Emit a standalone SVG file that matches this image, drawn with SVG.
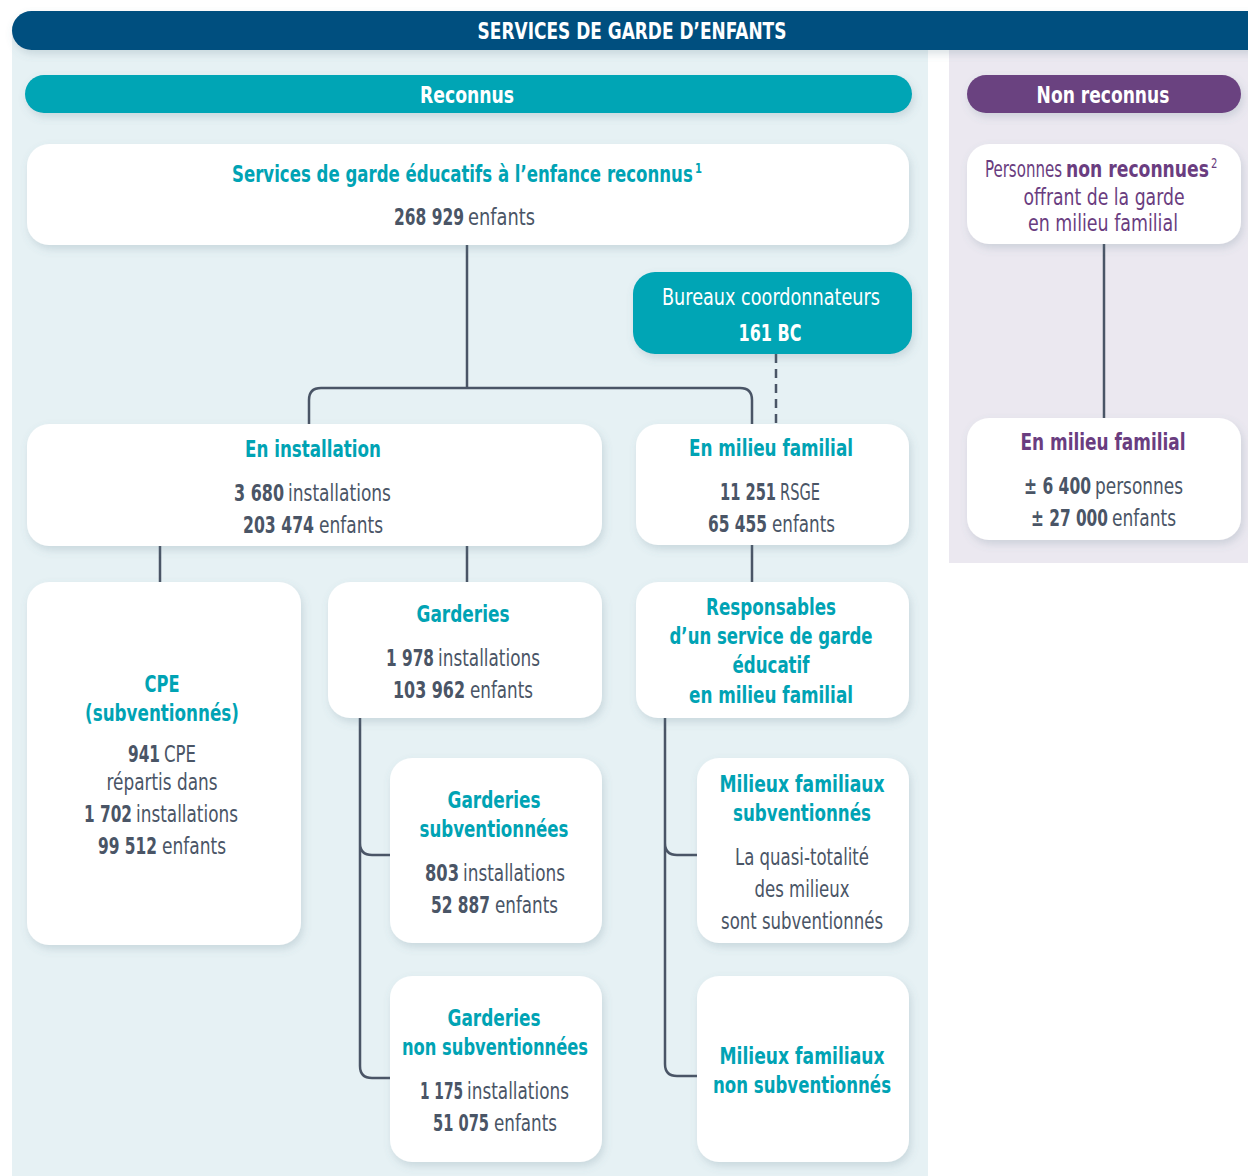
<svg xmlns="http://www.w3.org/2000/svg" width="1248" height="1176" viewBox="0 0 1248 1176">
<defs>
<filter id="sh" x="-10%" y="-10%" width="130%" height="140%">
<feDropShadow dx="2" dy="4" stdDeviation="4" flood-color="#5a7a88" flood-opacity="0.22"/>
</filter>
<style>
text{font-family:"DejaVu Sans Condensed","Liberation Sans Narrow","Liberation Sans",sans-serif;text-anchor:middle;font-size:23px}
.s{text-anchor:start}
.t{fill:#00a3b4;font-weight:bold}
.p{fill:#6a3d80}
.g{fill:#4a5566}
.b{font-weight:bold}
.w{fill:#ffffff}
.sup{font-size:14px}
.box{fill:#ffffff;filter:url(#sh)}
.ln{fill:none;stroke:#4a5566;stroke-width:2.5}
</style>
</defs>
<rect width="1248" height="1176" fill="#ffffff"/>
<rect x="12" y="30" width="916" height="1146" fill="#e6f1f4"/>
<rect x="949" y="30" width="299" height="533" fill="#ebe8f0"/>
<g id="title">
<rect x="12" y="11" width="1260" height="39" rx="19.5" fill="#00507f" filter="url(#sh)"/>
<text transform="translate(632) scale(.8 1)" x="0" y="39" class="w b" font-size="22" textLength="386" lengthAdjust="spacingAndGlyphs">SERVICES DE GARDE D’ENFANTS</text>
</g>
<g id="reconnus">
<rect x="25" y="75" width="887" height="38" rx="19" fill="#00a5b5" filter="url(#sh)"/>
<text transform="translate(467) scale(.8 1)" x="0" y="103" class="w b" textLength="117.5" lengthAdjust="spacingAndGlyphs">Reconnus</text>
</g>
<g id="nonreconnus">
<rect x="967" y="75" width="274" height="38" rx="19" fill="#6b4280" filter="url(#sh)"/>
<text transform="translate(1103) scale(.8 1)" x="0" y="103" class="w b" textLength="166" lengthAdjust="spacingAndGlyphs">Non reconnus</text>
</g>
<g id="connectors">
<path class="ln" d="M467 245V388"/>
<path class="ln" d="M309 424V400Q309 388 321 388H740Q752 388 752 400V424"/>
<path class="ln" d="M776 354V424" stroke-dasharray="9 6"/>
<path class="ln" d="M160 546V582M467 546V582M752 545V582"/>
<path class="ln" d="M360 718V843Q360 855 372 855H390M360 843V1066Q360 1078 372 1078H390"/>
<path class="ln" d="M665 718V843Q665 855 677 855H697M665 843V1064Q665 1076 677 1076H697"/>
<path class="ln" d="M1104 244V418"/>
</g>
<g id="sgee">
<rect class="box" x="27" y="144" width="882" height="101" rx="22"/>
<text transform="translate(232) scale(.8 1)" x="0" y="182" class="t s" textLength="576" lengthAdjust="spacingAndGlyphs">Services de garde éducatifs à l’enfance reconnus</text>
<text transform="translate(695) scale(.8 1)" x="0" y="173" class="t s sup">1</text>
<text transform="translate(394) scale(.8 1)" x="0" y="225" class="g b s" textLength="87.5" lengthAdjust="spacingAndGlyphs">268 929</text>
<text transform="translate(468) scale(.8 1)" x="0" y="225" class="g s" textLength="83.75" lengthAdjust="spacingAndGlyphs">enfants</text>
</g>
<g id="bureaux">
<rect x="633" y="272" width="279" height="82" rx="22" fill="#00a5b5" filter="url(#sh)"/>
<text transform="translate(771) scale(.8 1)" x="0" y="305" class="w" textLength="272.5" lengthAdjust="spacingAndGlyphs">Bureaux coordonnateurs</text>
<text transform="translate(770) scale(.8 1)" x="0" y="341" class="w b" textLength="78.75" lengthAdjust="spacingAndGlyphs">161 BC</text>
</g>
<g id="installation">
<rect class="box" x="27" y="424" width="575" height="122" rx="22"/>
<text transform="translate(313) scale(.8 1)" x="0" y="457" class="t" textLength="170" lengthAdjust="spacingAndGlyphs">En installation</text>
<text transform="translate(234) scale(.8 1)" x="0" y="501" class="g b s" textLength="62.5" lengthAdjust="spacingAndGlyphs">3 680</text>
<text transform="translate(288) scale(.8 1)" x="0" y="501" class="g s" textLength="128.75" lengthAdjust="spacingAndGlyphs">installations</text>
<text transform="translate(243) scale(.8 1)" x="0" y="533" class="g b s" textLength="88.75" lengthAdjust="spacingAndGlyphs">203 474</text>
<text transform="translate(319) scale(.8 1)" x="0" y="533" class="g s" textLength="80" lengthAdjust="spacingAndGlyphs">enfants</text>
</g>
<g id="milieufamilial">
<rect class="box" x="636" y="424" width="273" height="121" rx="22"/>
<text transform="translate(771) scale(.8 1)" x="0" y="456" class="t" textLength="205" lengthAdjust="spacingAndGlyphs">En milieu familial</text>
<text transform="translate(720) scale(.8 1)" x="0" y="500" class="g b s" textLength="70" lengthAdjust="spacingAndGlyphs">11 251</text>
<text transform="translate(780) scale(.8 1)" x="0" y="500" class="g s" textLength="50" lengthAdjust="spacingAndGlyphs">RSGE</text>
<text transform="translate(708) scale(.8 1)" x="0" y="532" class="g b s" textLength="73.75" lengthAdjust="spacingAndGlyphs">65 455</text>
<text transform="translate(772) scale(.8 1)" x="0" y="532" class="g s" textLength="78.75" lengthAdjust="spacingAndGlyphs">enfants</text>
</g>
<g id="cpe">
<rect class="box" x="27" y="582" width="274" height="363" rx="22"/>
<text transform="translate(162) scale(.8 1)" x="0" y="692" class="t" textLength="43.75" lengthAdjust="spacingAndGlyphs">CPE</text>
<text transform="translate(162) scale(.8 1)" x="0" y="721" class="t" textLength="192.5" lengthAdjust="spacingAndGlyphs">(subventionnés)</text>
<text transform="translate(128) scale(.8 1)" x="0" y="762" class="g b s" textLength="40" lengthAdjust="spacingAndGlyphs">941</text>
<text transform="translate(164) scale(.8 1)" x="0" y="762" class="g s" textLength="40" lengthAdjust="spacingAndGlyphs">CPE</text>
<text transform="translate(162) scale(.8 1)" x="0" y="790" class="g" textLength="138.75" lengthAdjust="spacingAndGlyphs">répartis dans</text>
<text transform="translate(84) scale(.8 1)" x="0" y="822" class="g b s" textLength="60" lengthAdjust="spacingAndGlyphs">1 702</text>
<text transform="translate(136) scale(.8 1)" x="0" y="822" class="g s" textLength="127.5" lengthAdjust="spacingAndGlyphs">installations</text>
<text transform="translate(98) scale(.8 1)" x="0" y="854" class="g b s" textLength="73.75" lengthAdjust="spacingAndGlyphs">99 512</text>
<text transform="translate(162) scale(.8 1)" x="0" y="854" class="g s" textLength="80" lengthAdjust="spacingAndGlyphs">enfants</text>
</g>
<g id="garderies">
<rect class="box" x="328" y="582" width="274" height="136" rx="22"/>
<text transform="translate(463) scale(.8 1)" x="0" y="622" class="t" textLength="116.25" lengthAdjust="spacingAndGlyphs">Garderies</text>
<text transform="translate(386) scale(.8 1)" x="0" y="666" class="g b s" textLength="60" lengthAdjust="spacingAndGlyphs">1 978</text>
<text transform="translate(438) scale(.8 1)" x="0" y="666" class="g s" textLength="127.5" lengthAdjust="spacingAndGlyphs">installations</text>
<text transform="translate(393) scale(.8 1)" x="0" y="698" class="g b s" textLength="90" lengthAdjust="spacingAndGlyphs">103 962</text>
<text transform="translate(470) scale(.8 1)" x="0" y="698" class="g s" textLength="78.75" lengthAdjust="spacingAndGlyphs">enfants</text>
</g>
<g id="rsge">
<rect class="box" x="636" y="582" width="273" height="136" rx="22"/>
<text transform="translate(771) scale(.8 1)" x="0" y="615" class="t" textLength="162.5" lengthAdjust="spacingAndGlyphs">Responsables</text>
<text transform="translate(771) scale(.8 1)" x="0" y="644" class="t" textLength="253.75" lengthAdjust="spacingAndGlyphs">d’un service de garde</text>
<text transform="translate(771) scale(.8 1)" x="0" y="673" class="t" textLength="96.25" lengthAdjust="spacingAndGlyphs">éducatif</text>
<text transform="translate(771) scale(.8 1)" x="0" y="703" class="t" textLength="205" lengthAdjust="spacingAndGlyphs">en milieu familial</text>
</g>
<g id="gardsub">
<rect class="box" x="390" y="758" width="212" height="185" rx="22"/>
<text transform="translate(494) scale(.8 1)" x="0" y="808" class="t" textLength="116.25" lengthAdjust="spacingAndGlyphs">Garderies</text>
<text transform="translate(494) scale(.8 1)" x="0" y="837" class="t" textLength="186.25" lengthAdjust="spacingAndGlyphs">subventionnées</text>
<text transform="translate(425) scale(.8 1)" x="0" y="881" class="g b s" textLength="42.5" lengthAdjust="spacingAndGlyphs">803</text>
<text transform="translate(463) scale(.8 1)" x="0" y="881" class="g s" textLength="127.5" lengthAdjust="spacingAndGlyphs">installations</text>
<text transform="translate(431) scale(.8 1)" x="0" y="913" class="g b s" textLength="73.75" lengthAdjust="spacingAndGlyphs">52 887</text>
<text transform="translate(495) scale(.8 1)" x="0" y="913" class="g s" textLength="78.75" lengthAdjust="spacingAndGlyphs">enfants</text>
</g>
<g id="gardnonsub">
<rect class="box" x="390" y="976" width="212" height="186" rx="22"/>
<text transform="translate(494) scale(.8 1)" x="0" y="1026" class="t" textLength="116.25" lengthAdjust="spacingAndGlyphs">Garderies</text>
<text transform="translate(495) scale(.8 1)" x="0" y="1055" class="t" textLength="232.5" lengthAdjust="spacingAndGlyphs">non subventionnées</text>
<text transform="translate(420) scale(.8 1)" x="0" y="1099" class="g b s" textLength="53.75" lengthAdjust="spacingAndGlyphs">1 175</text>
<text transform="translate(467) scale(.8 1)" x="0" y="1099" class="g s" textLength="127.5" lengthAdjust="spacingAndGlyphs">installations</text>
<text transform="translate(433) scale(.8 1)" x="0" y="1131" class="g b s" textLength="70" lengthAdjust="spacingAndGlyphs">51 075</text>
<text transform="translate(494) scale(.8 1)" x="0" y="1131" class="g s" textLength="78.75" lengthAdjust="spacingAndGlyphs">enfants</text>
</g>
<g id="milsub">
<rect class="box" x="697" y="758" width="212" height="185" rx="22"/>
<text transform="translate(802) scale(.8 1)" x="0" y="792" class="t" textLength="206.25" lengthAdjust="spacingAndGlyphs">Milieux familiaux</text>
<text transform="translate(802) scale(.8 1)" x="0" y="821" class="t" textLength="172.5" lengthAdjust="spacingAndGlyphs">subventionnés</text>
<text transform="translate(802) scale(.8 1)" x="0" y="865" class="g" textLength="167.5" lengthAdjust="spacingAndGlyphs">La quasi-totalité</text>
<text transform="translate(802) scale(.8 1)" x="0" y="897" class="g" textLength="118.75" lengthAdjust="spacingAndGlyphs">des milieux</text>
<text transform="translate(802) scale(.8 1)" x="0" y="929" class="g" textLength="202.5" lengthAdjust="spacingAndGlyphs">sont subventionnés</text>
</g>
<g id="milnonsub">
<rect class="box" x="697" y="976" width="212" height="186" rx="22"/>
<text transform="translate(802) scale(.8 1)" x="0" y="1064" class="t" textLength="206.25" lengthAdjust="spacingAndGlyphs">Milieux familiaux</text>
<text transform="translate(802) scale(.8 1)" x="0" y="1093" class="t" textLength="222.5" lengthAdjust="spacingAndGlyphs">non subventionnés</text>
</g>
<g id="personnes">
<rect class="box" x="967" y="144" width="274" height="100" rx="22"/>
<text transform="translate(985) scale(.8 1)" x="0" y="177" class="p s" textLength="96.25" lengthAdjust="spacingAndGlyphs">Personnes</text>
<text transform="translate(1066) scale(.8 1)" x="0" y="177" class="p b s" textLength="178.75" lengthAdjust="spacingAndGlyphs">non reconnues</text>
<text transform="translate(1211) scale(.8 1)" x="0" y="168" class="p s sup">2</text>
<text transform="translate(1104) scale(.8 1)" x="0" y="205" class="p" textLength="201.25" lengthAdjust="spacingAndGlyphs">offrant de la garde</text>
<text transform="translate(1103) scale(.8 1)" x="0" y="231" class="p" textLength="187.5" lengthAdjust="spacingAndGlyphs">en milieu familial</text>
</g>
<g id="nrmilieu">
<rect class="box" x="967" y="418" width="274" height="122" rx="22"/>
<text transform="translate(1103) scale(.8 1)" x="0" y="450" class="p b" textLength="206.25" lengthAdjust="spacingAndGlyphs">En milieu familial</text>
<text transform="translate(1024) scale(.8 1)" x="0" y="494" class="g b s" textLength="83.75" lengthAdjust="spacingAndGlyphs">± 6 400</text>
<text transform="translate(1095) scale(.8 1)" x="0" y="494" class="g s" textLength="110" lengthAdjust="spacingAndGlyphs">personnes</text>
<text transform="translate(1031) scale(.8 1)" x="0" y="526" class="g b s" textLength="96.25" lengthAdjust="spacingAndGlyphs">± 27 000</text>
<text transform="translate(1112) scale(.8 1)" x="0" y="526" class="g s" textLength="80" lengthAdjust="spacingAndGlyphs">enfants</text>
</g>
</svg>
